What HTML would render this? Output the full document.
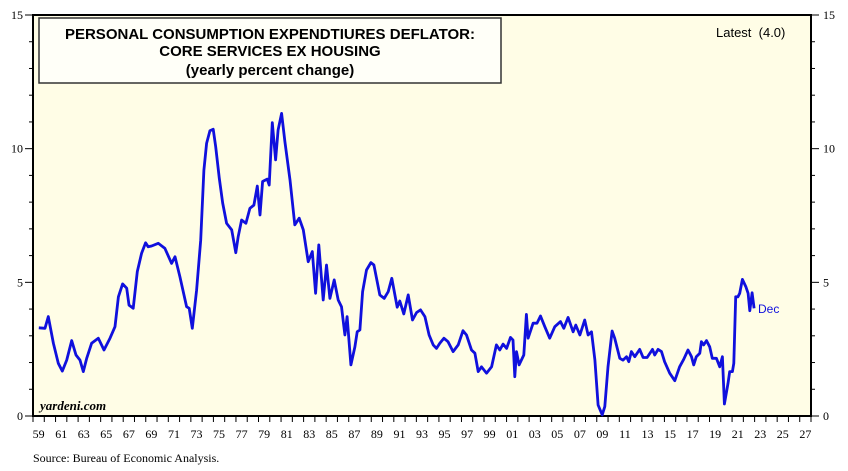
<!DOCTYPE html>
<html><head><meta charset="utf-8"><style>
body{margin:0;background:#fff;width:848px;height:471px;overflow:hidden}
svg{display:block}
</style></head><body>
<svg id="chart" width="848" height="471" xmlns="http://www.w3.org/2000/svg" font-family="Liberation Serif, serif">
<rect x="33" y="15" width="778" height="401" fill="#fffde6"/>
<g id="axes"></g>
<rect x="39" y="18" width="462" height="65" fill="#fffff8" stroke="#333" stroke-width="1.5"/>
<g font-family="Liberation Sans, sans-serif" font-weight="bold" font-size="15" text-anchor="middle" fill="#000">
<text x="270" y="39">PERSONAL CONSUMPTION EXPENDTIURES DEFLATOR:</text>
<text x="270" y="56">CORE SERVICES EX HOUSING</text>
<text x="270" y="75">(yearly percent change)</text>
</g>
<text x="716" y="37" font-family="Liberation Sans, sans-serif" font-size="13" style="white-space:pre">Latest  (4.0)</text>
<text x="40" y="410" font-size="13" font-weight="bold" font-style="italic">yardeni.com</text>
<text x="33" y="462" font-size="12">Source: Bureau of Economic Analysis.</text>
<text x="758" y="313" font-family="Liberation Sans, sans-serif" font-size="12" fill="#1010dd">Dec</text>
<g id="series"></g>
</svg>
<script>
const years=[1959.51,1960.06,1960.36,1960.81,1961.24,1961.60,1961.99,1962.43,1962.81,1963.17,1963.46,1963.76,1964.20,1964.79,1965.30,1965.83,1966.27,1966.57,1966.95,1967.31,1967.51,1967.89,1968.25,1968.63,1968.99,1969.22,1969.52,1970.11,1970.70,1971.29,1971.59,1972.03,1972.62,1972.85,1973.13,1973.51,1973.87,1974.16,1974.40,1974.69,1974.98,1975.20,1975.52,1975.82,1976.17,1976.62,1976.99,1977.20,1977.50,1977.88,1978.24,1978.59,1978.89,1979.13,1979.36,1979.77,1979.95,1980.22,1980.52,1980.74,1981.05,1981.34,1981.79,1982.22,1982.61,1982.97,1983.41,1983.77,1984.06,1984.35,1984.74,1985.03,1985.33,1985.71,1986.07,1986.36,1986.66,1986.86,1987.19,1987.55,1987.75,1987.99,1988.23,1988.58,1988.97,1989.23,1989.76,1990.15,1990.50,1990.82,1991.30,1991.53,1991.89,1992.28,1992.66,1993.02,1993.37,1993.76,1994.13,1994.49,1994.79,1995.08,1995.44,1995.81,1996.26,1996.71,1997.14,1997.45,1997.89,1998.19,1998.48,1998.78,1999.22,1999.67,2000.10,2000.40,2000.69,2001.00,2001.35,2001.57,2001.73,2001.88,2002.11,2002.53,2002.76,2002.91,2003.35,2003.70,2004.01,2004.39,2004.83,2005.28,2005.78,2006.08,2006.46,2006.90,2007.14,2007.50,2007.93,2008.23,2008.53,2008.83,2009.12,2009.48,2009.71,2010.00,2010.36,2010.59,2011.04,2011.33,2011.64,2011.84,2012.07,2012.37,2012.81,2013.11,2013.46,2013.94,2014.14,2014.44,2014.74,2015.02,2015.47,2015.92,2016.35,2016.71,2017.09,2017.40,2017.60,2017.83,2018.14,2018.28,2018.48,2018.73,2019.02,2019.25,2019.61,2019.90,2020.14,2020.32,2020.64,2020.79,2021.03,2021.15,2021.32,2021.52,2021.68,2021.92,2022.22,2022.42,2022.57,2022.78,2022.95];
const values=[3.3,3.28,3.72,2.72,1.97,1.68,2.09,2.82,2.28,2.09,1.66,2.16,2.72,2.91,2.47,2.91,3.34,4.46,4.94,4.78,4.15,4.03,5.4,6.09,6.48,6.33,6.36,6.46,6.27,5.71,5.96,5.21,4.09,4.03,3.28,4.71,6.58,9.2,10.2,10.67,10.73,10.07,8.89,7.96,7.21,6.96,6.11,6.71,7.33,7.21,7.77,7.89,8.6,7.52,8.77,8.86,8.64,10.97,9.58,10.7,11.32,10.26,8.83,7.15,7.4,6.96,5.77,6.15,4.59,6.4,4.34,5.65,4.4,5.09,4.34,4.09,3.03,3.72,1.91,2.59,3.15,3.22,4.65,5.46,5.74,5.65,4.53,4.4,4.65,5.15,4.07,4.3,3.82,4.53,3.59,3.87,3.97,3.72,3.03,2.66,2.53,2.72,2.91,2.78,2.41,2.66,3.19,3.03,2.47,2.35,1.66,1.84,1.6,1.84,2.66,2.47,2.69,2.53,2.94,2.84,1.47,2.41,1.91,2.28,3.8,2.91,3.47,3.47,3.74,3.34,2.91,3.34,3.53,3.28,3.69,3.15,3.4,3.03,3.59,3.03,3.15,2.09,0.41,0.04,0.35,1.84,3.18,2.91,2.16,2.09,2.22,2.03,2.41,2.22,2.49,2.19,2.19,2.49,2.28,2.49,2.41,2.03,1.6,1.32,1.84,2.12,2.47,2.22,1.91,2.22,2.35,2.78,2.66,2.82,2.59,2.16,2.16,1.84,2.22,0.45,1.22,1.66,1.66,1.97,4.46,4.46,4.59,5.11,4.84,4.59,3.94,4.61,4.03];
const yTicks=[0,5,10,15];
const xLabels=["59","61","63","65","67","69","71","73","75","77","79","81","83","85","87","89","91","93","95","97","99","01","03","05","07","09","11","13","15","17","19","21","23","25","27"];
const NS="http://www.w3.org/2000/svg";
const X0=33,X1=811,Y0=416,Y1=15,YR0=1959,YR1=2028;
function xs(y){return X0+(y-YR0)*(X1-X0)/(YR1-YR0);}
function ys(v){return Y0-(v/15)*(Y0-Y1);}
function mk(tag,attrs,parent){const e=document.createElementNS(NS,tag);for(const k in attrs)e.setAttribute(k,attrs[k]);parent.appendChild(e);return e;}
const ax=document.getElementById('axes');
let e=mk('rect',{x:X0,y:Y1,width:X1-X0,height:Y0-Y1,fill:'none',stroke:'#000','stroke-width':2},ax);


for(let v=0;v<=15;v++){
  const y=ys(v),maj=v%5===0,l=maj?8:4;
  e=mk('line',{x1:X0-l,x2:X0,y1:y,y2:y,stroke:'#000','stroke-width':1},ax);
  
  
  e=mk('line',{x1:X1,x2:X1+l,y1:y,y2:y,stroke:'#000','stroke-width':1},ax);
  
  
}
yTicks.forEach(v=>{
  const y=ys(v);
  let t=mk('text',{x:X0-10,y:y+4,'text-anchor':'end','font-size':12},ax);t.textContent=v;
  
  
  t=mk('text',{x:X1+12,y:y+4,'font-size':12},ax);t.textContent=v;
  
  
});
for(let yr=YR0;yr<=YR1;yr++){
  const x=xs(yr);
  e=mk('line',{x1:x,x2:x,y1:Y0,y2:Y0+6,stroke:'#000','stroke-width':1},ax);
  
  
}
xLabels.forEach((lab,i)=>{
  const t=mk('text',{x:xs(YR0+2*i+0.5),y:438,'text-anchor':'middle','font-size':12},ax);
  t.textContent=lab;
  
  
});
const sg=document.getElementById('series');
const pts=years.map((y,i)=>xs(y).toFixed(1)+','+ys(values[i]).toFixed(1)).join(' ');
const pl=mk('polyline',{points:pts,fill:'none',stroke:'#1010dd','stroke-width':2.8,'stroke-linejoin':'round'},sg);


</script>
</body></html>
